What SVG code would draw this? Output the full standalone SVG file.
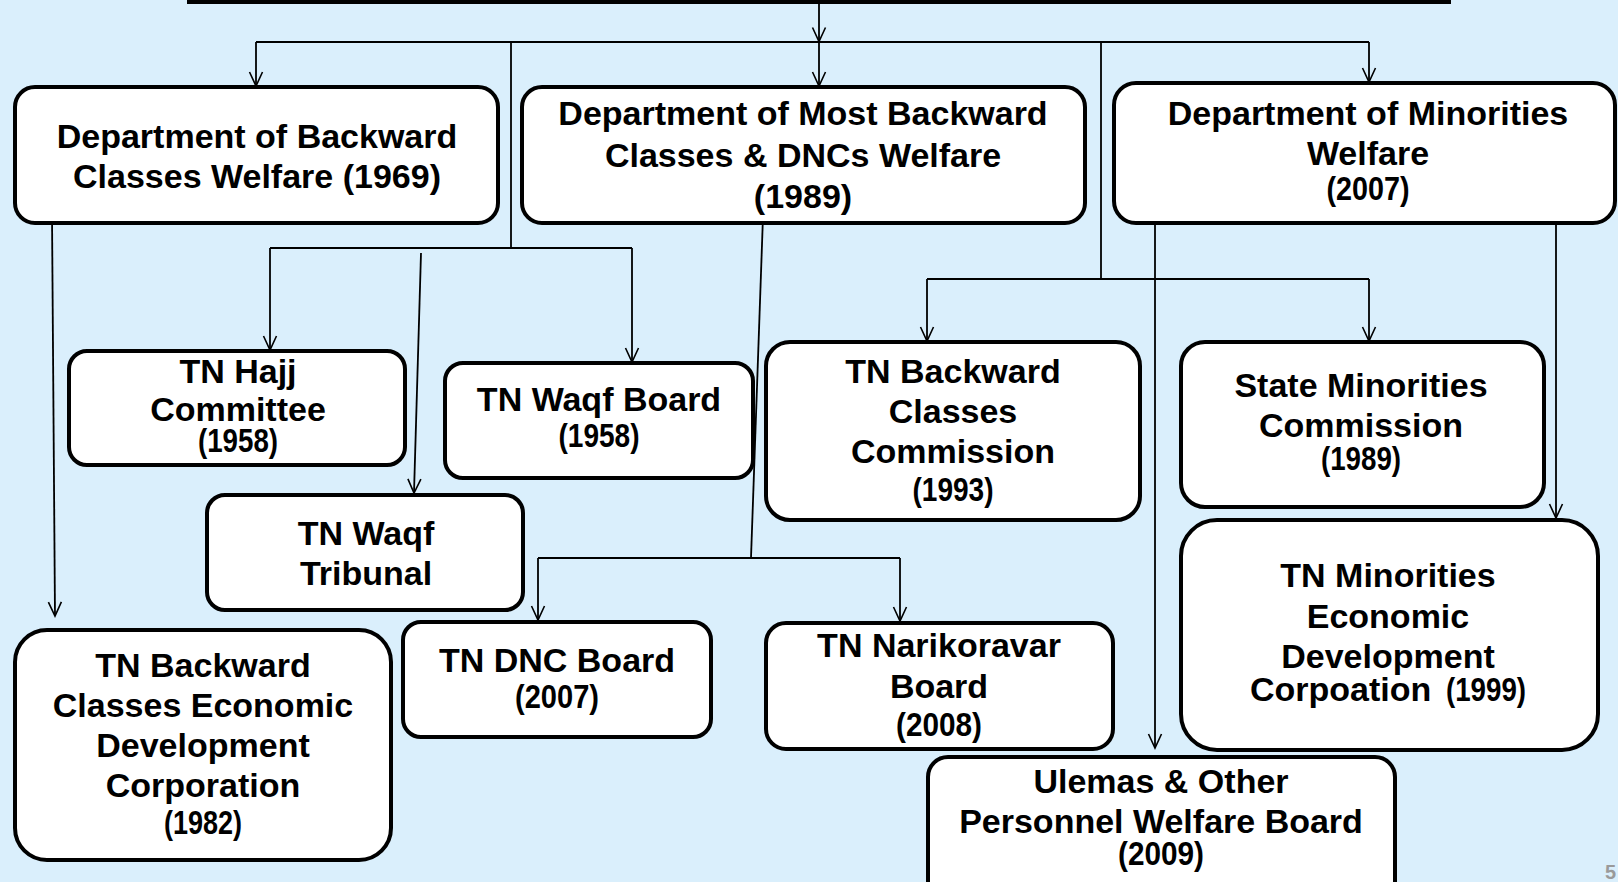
<svg xmlns="http://www.w3.org/2000/svg" width="1618" height="882" viewBox="0 0 1618 882">
<defs>
<style>
.bx{fill:#fff;stroke:#000;stroke-width:4}
.t{font-family:"Liberation Sans",Arial,sans-serif;font-weight:bold;font-size:34px;fill:#000;text-anchor:middle}
.c{fill:none;stroke:#000;stroke-width:1.8}
</style>
<marker id="a" markerUnits="userSpaceOnUse" markerWidth="20" markerHeight="20" viewBox="-16 -10 20 20" refX="0" refY="0" orient="auto" overflow="visible">
<path d="M-14,-6.5 L0,0 L-14,6.5" fill="none" stroke="#000" stroke-width="1.6"/>
</marker>
</defs>
<rect x="0" y="0" width="1618" height="882" fill="#DAEFFC"/>

<g id="connectors">
<path class="c" d="M819,4 V41.5" marker-end="url(#a)"/>
<path class="c" d="M256,42 H1369"/>
<path class="c" d="M256,42 V86" marker-end="url(#a)"/>
<path class="c" d="M819,42 V86" marker-end="url(#a)"/>
<path class="c" d="M1369,42 V82" marker-end="url(#a)"/>
<path class="c" d="M511,42 V248"/>
<path class="c" d="M270,248 H632"/>
<path class="c" d="M270,248 V350" marker-end="url(#a)"/>
<path class="c" d="M632,248 V362" marker-end="url(#a)"/>
<path class="c" d="M1101,42 V279"/>
<path class="c" d="M927,279 H1369"/>
<path class="c" d="M927,279 V341" marker-end="url(#a)"/>
<path class="c" d="M1369,279 V341" marker-end="url(#a)"/>
<path class="c" d="M52,215 L55,616" marker-end="url(#a)"/>
<path class="c" d="M421,253 L414,493" marker-end="url(#a)"/>
<path class="c" d="M763,216 L751,558"/>
<path class="c" d="M538,558 H900"/>
<path class="c" d="M538,558 V620" marker-end="url(#a)"/>
<path class="c" d="M900,558 V621" marker-end="url(#a)"/>
<path class="c" d="M1155,225 V748" marker-end="url(#a)"/>
<path class="c" d="M1556,216 V518" marker-end="url(#a)"/>
</g>

<g id="top"><rect class="bx" x="189" y="-30" width="1260" height="32"/></g>

<g id="dept-bc">
<rect class="bx" x="15" y="87" width="483" height="136" rx="20"/>
<text class="t" x="257" y="148">Department of Backward</text>
<text class="t" x="257" y="188">Classes Welfare (1969)</text>
</g>

<g id="dept-mbc">
<rect class="bx" x="522" y="87" width="563" height="136" rx="20"/>
<text class="t" x="803" y="125">Department of Most Backward</text>
<text class="t" x="803" y="167">Classes &amp; DNCs Welfare</text>
<text class="t" x="803" y="208">(1989)</text>
</g>

<g id="dept-min">
<rect class="bx" x="1114" y="83" width="501" height="140" rx="22"/>
<text class="t" x="1368" y="125">Department of Minorities</text>
<text class="t" x="1368" y="165">Welfare</text>
<text class="t" x="1368" y="200" textLength="83" lengthAdjust="spacingAndGlyphs">(2007)</text>
</g>

<g id="hajj">
<rect class="bx" x="69" y="351" width="336" height="114" rx="18"/>
<text class="t" x="238" y="383">TN Hajj</text>
<text class="t" x="238" y="421">Committee</text>
<text class="t" x="238" y="452" textLength="80" lengthAdjust="spacingAndGlyphs">(1958)</text>
</g>

<g id="waqf-board">
<rect class="bx" x="445" y="363" width="308" height="115" rx="18"/>
<text class="t" x="599" y="411">TN Waqf Board</text>
<text class="t" x="599" y="447" textLength="81" lengthAdjust="spacingAndGlyphs">(1958)</text>
</g>

<g id="waqf-tribunal">
<rect class="bx" x="207" y="495" width="316" height="115" rx="18"/>
<text class="t" x="366" y="545">TN Waqf</text>
<text class="t" x="366" y="585">Tribunal</text>
</g>

<g id="bc-commission">
<rect class="bx" x="766" y="342" width="374" height="178" rx="24"/>
<text class="t" x="953" y="383">TN Backward</text>
<text class="t" x="953" y="423">Classes</text>
<text class="t" x="953" y="463">Commission</text>
<text class="t" x="953" y="501" textLength="81" lengthAdjust="spacingAndGlyphs">(1993)</text>
</g>

<g id="state-min">
<rect class="bx" x="1181" y="342" width="363" height="165" rx="24"/>
<text class="t" x="1361" y="397">State Minorities</text>
<text class="t" x="1361" y="437">Commission</text>
<text class="t" x="1361" y="470" textLength="80" lengthAdjust="spacingAndGlyphs">(1989)</text>
</g>

<g id="bcedc">
<rect class="bx" x="15" y="630" width="376" height="230" rx="32"/>
<text class="t" x="203" y="677">TN Backward</text>
<text class="t" x="203" y="717">Classes Economic</text>
<text class="t" x="203" y="757">Development</text>
<text class="t" x="203" y="797">Corporation</text>
<text class="t" x="203" y="834" textLength="78" lengthAdjust="spacingAndGlyphs">(1982)</text>
</g>

<g id="dnc">
<rect class="bx" x="403" y="622" width="308" height="115" rx="18"/>
<text class="t" x="557" y="672">TN DNC Board</text>
<text class="t" x="557" y="708" textLength="84" lengthAdjust="spacingAndGlyphs">(2007)</text>
</g>

<g id="narikoravar">
<rect class="bx" x="766" y="623" width="347" height="126" rx="20"/>
<text class="t" x="939" y="657">TN Narikoravar</text>
<text class="t" x="939" y="698">Board</text>
<text class="t" x="939" y="736" textLength="86" lengthAdjust="spacingAndGlyphs">(2008)</text>
</g>

<g id="tn-min-edc">
<rect class="bx" x="1181" y="520" width="417" height="230" rx="36"/>
<text class="t" x="1388" y="587">TN Minorities</text>
<text class="t" x="1388" y="628">Economic</text>
<text class="t" x="1388" y="668">Development</text>
<text class="t" x="1250" y="701" style="text-anchor:start">Corpoation</text>
<text class="t" x="1446" y="701" style="text-anchor:start" textLength="80" lengthAdjust="spacingAndGlyphs">(1999)</text>
</g>

<g id="ulemas">
<rect class="bx" x="928" y="757" width="467" height="150" rx="20"/>
<text class="t" x="1161" y="793">Ulemas &amp; Other</text>
<text class="t" x="1161" y="833">Personnel Welfare Board</text>
<text class="t" x="1161" y="865" textLength="86" lengthAdjust="spacingAndGlyphs">(2009)</text>
</g>

<text x="1605" y="879" style="font-family:'Liberation Sans',Arial,sans-serif;font-weight:bold;font-size:20px;fill:#9a9a9a">5</text>
</svg>
